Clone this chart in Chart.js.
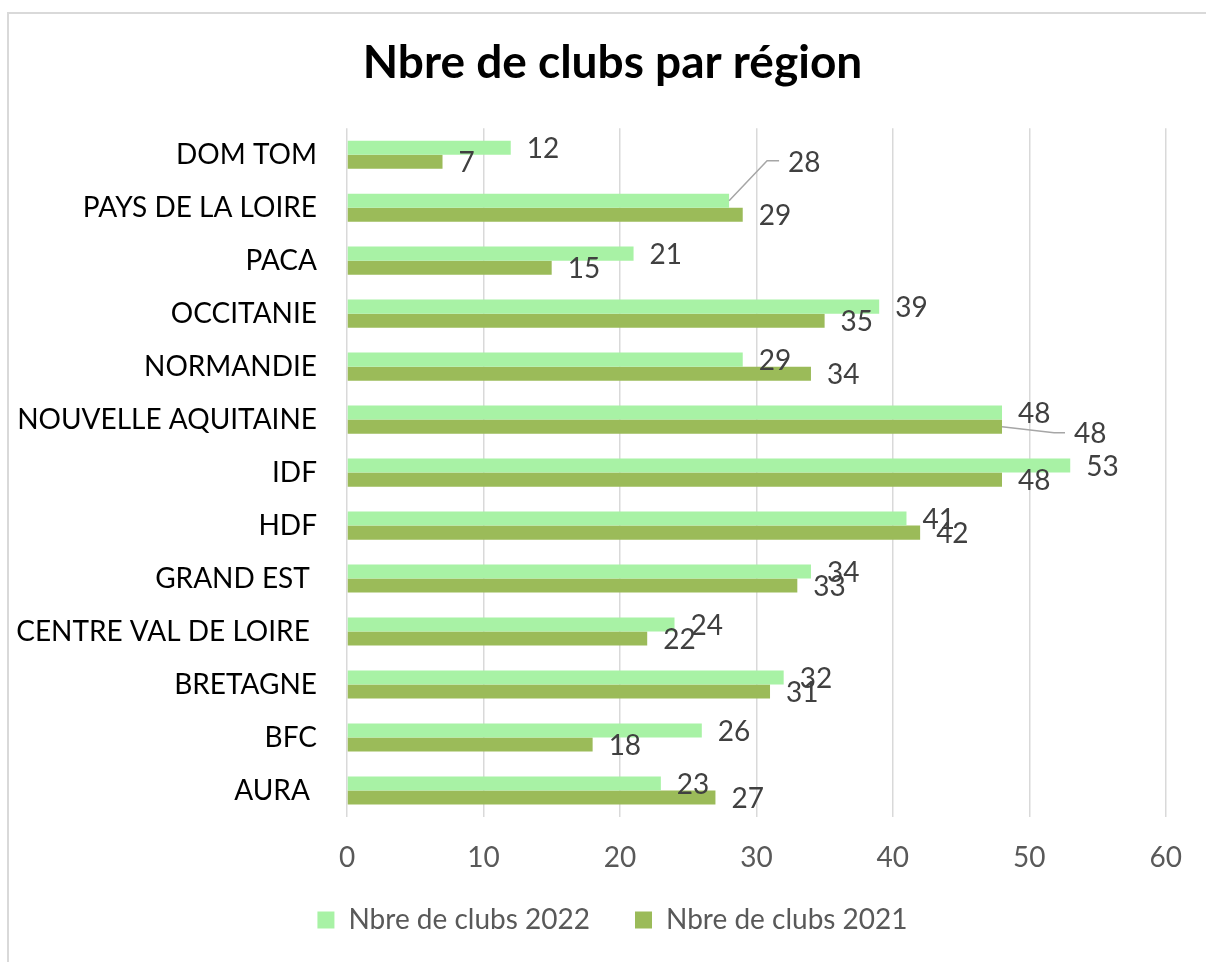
<!DOCTYPE html>
<html lang="fr">
<head>
<meta charset="utf-8">
<title>Nbre de clubs par région</title>
<script src="https://cdn.jsdelivr.net/npm/chart.js@4/dist/chart.umd.min.js"></script>
<style>
    html, body { margin: 0; padding: 0; background: #fff; overflow: hidden; }
    #frame {
        position: absolute; left: 7px; top: 12px;
        width: 1260px; height: 1000px;
        border: 2px solid #d9d9d9; box-sizing: border-box;
    }
    #clubsChart { position: absolute; left: 0; top: 0; }
</style>
</head>
<body>
<div id="frame"></div>
<canvas id="clubsChart" width="1206" height="962"></canvas>
<script>
/* Nbre de clubs par région - horizontal grouped bars, 2022 vs 2021 */

const regions = [
    'DOM TOM', 'PAYS DE LA LOIRE', 'PACA', 'OCCITANIE', 'NORMANDIE',
    'NOUVELLE AQUITAINE', 'IDF', 'HDF', 'GRAND EST ', 'CENTRE VAL DE LOIRE ',
    'BRETAGNE', 'BFC', 'AURA '
];
const clubs2022 = [12, 28, 21, 39, 29, 48, 53, 41, 34, 24, 32, 26, 23];
const clubs2021 = [7, 29, 15, 35, 34, 48, 48, 42, 33, 22, 31, 18, 27];
const xTickMin = 0;
const xTickMax = 60;
const xTickStep = 10;

const FONT = 'Lato, "Noto Sans", sans-serif';

// labels Excel had moved by hand, with their leader lines (dataset-index : category-index)
const movedLabels = {
    '0-1': { dx: 59, dy: -38, bend: [38, -40], tail: 12 },
    '1-5': { dx: 72, dy: 7, bend: [52, 6], tail: 11 }
};

function valueLabelsPlugin() {
    return {
        id: 'valueLabels',
        afterDatasetsDraw(chart) {
            const { ctx } = chart;
            ctx.save();
            ctx.font = '28px ' + FONT;
            ctx.fillStyle = '#404040';
            ctx.textAlign = 'left';
            ctx.textBaseline = 'middle';

            chart.data.datasets.forEach((ds, d) => {
                const meta = chart.getDatasetMeta(d);
                meta.data.forEach((bar, i) => {
                    const moved = movedLabels[d + '-' + i];
                    if (moved) {
                        ctx.strokeStyle = '#a6a6a6';
                        ctx.lineWidth = 1.5;
                        ctx.beginPath();
                        ctx.moveTo(bar.x, bar.y);
                        ctx.lineTo(bar.x + moved.bend[0], bar.y + moved.bend[1]);
                        ctx.lineTo(bar.x + moved.bend[0] + moved.tail, bar.y + moved.bend[1]);
                        ctx.stroke();
                        ctx.fillText(String(ds.data[i]), bar.x + moved.dx, bar.y + moved.dy);
                    } else {
                        ctx.fillText(String(ds.data[i]), bar.x + 16, bar.y + 1);
                    }
                });
            });
            ctx.restore();
        }
    };
}

// tick labels are clipped to their scale box; widen the boxes after layout
// so the long region names and the x tick numbers are not cut
const unclipTickLabels = {
    id: 'unclipTickLabels',
    afterLayout(chart) {
        chart.scales.y.left = 0;
        chart.scales.x.bottom = chart.height;
    }
};

new Chart(document.getElementById('clubsChart').getContext('2d'), {
    type: 'bar',
    data: {
        labels: regions,
        datasets: [
            {
                label: 'Nbre de clubs 2022',
                data: clubs2022,
                backgroundColor: '#A8F2A5',
                barPercentage: 1,
                categoryPercentage: 0.53
            },
            {
                label: 'Nbre de clubs 2021',
                data: clubs2021,
                backgroundColor: '#9BBB59',
                barPercentage: 1,
                categoryPercentage: 0.53
            }
        ]
    },
    options: {
        indexAxis: 'y',
        responsive: false,
        animation: false,
        layout: { padding: { left: 52, right: 33, top: 0, bottom: 18 } },
        scales: {
            x: {
                min: xTickMin,
                max: xTickMax,
                ticks: {
                    stepSize: xTickStep,
                    padding: 24,
                    color: '#595959',
                    font: { family: FONT, size: 28 }
                },
                grid: { color: '#d9d9d9', lineWidth: 1.5, drawTicks: false },
                border: { display: false },
                afterFit(scale) { scale.height = 44; }
            },
            y: {
                ticks: {
                    padding: 30,
                    color: '#000000',
                    font: { family: FONT, size: 28 },
                    autoSkip: false
                },
                grid: { display: false, drawTicks: false },
                border: { display: false },
                afterFit(scale) { scale.width = 295; }
            }
        },
        plugins: {
            title: {
                display: true,
                text: 'Nbre de clubs par région',
                color: '#000000',
                font: { family: FONT, size: 46, weight: 'bold' },
                padding: { top: 36, bottom: 37 }
            },
            legend: {
                position: 'bottom',
                labels: {
                    boxWidth: 17,
                    boxHeight: 17,
                    padding: 45,
                    color: '#595959',
                    font: { family: FONT, size: 28 }
                }
            },
            tooltip: { enabled: false }
        }
    },
    plugins: [valueLabelsPlugin(), unclipTickLabels]
});
</script>
</body>
</html>
